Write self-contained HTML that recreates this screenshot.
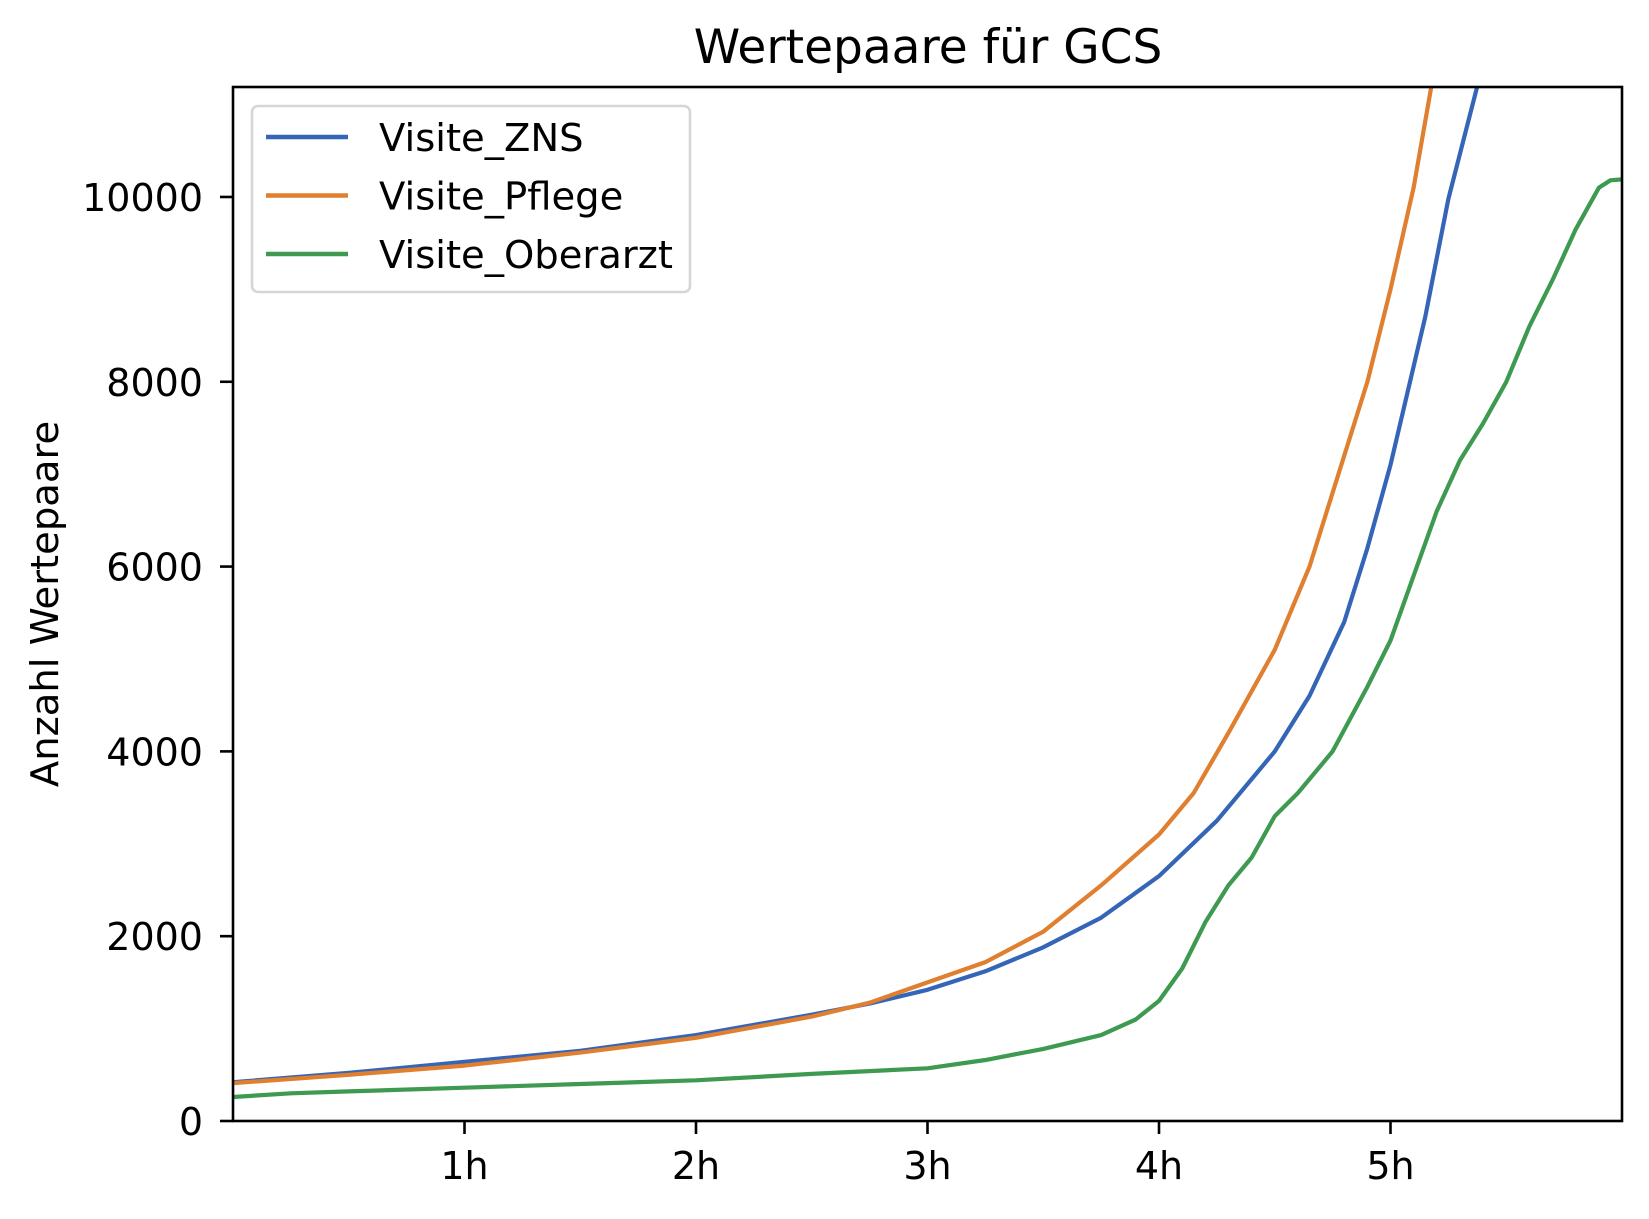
<!DOCTYPE html>
<html><head><meta charset="utf-8"><style>
body{margin:0;background:#fff}
svg text{font-family:"DejaVu Sans","Liberation Sans",sans-serif;fill:#000}
</style></head><body>
<svg id="c" width="1649" height="1214" xmlns="http://www.w3.org/2000/svg">
<rect width="1649" height="1214" fill="#fff"/>
<g id="plot"></g>
<text x="928" y="63" font-size="47" text-anchor="middle">Wertepaare für GCS</text>
<text transform="translate(58,604) rotate(-90)" font-size="38.5" text-anchor="middle">Anzahl Wertepaare</text>
</svg>
<script>
const xTicks=[1,2,3,4,5];
const xTickLabels=["1h","2h","3h","4h","5h"];
const yTicks=[0,2000,4000,6000,8000,10000];
const seriesNames=["Visite_ZNS","Visite_Pflege","Visite_Oberarzt"];
const seriesColors=["#3465b7","#e07f2f","#3d9a50"];
const znsX=[0,0.5,1,1.5,2,2.5,2.75,3,3.25,3.5,3.75,4,4.25,4.5,4.65,4.8,4.9,5,5.15,5.25,5.38];
const znsY=[420,520,640,760,930,1150,1270,1420,1620,1880,2200,2650,3250,4000,4600,5400,6200,7100,8700,9980,11250];
const pflegeX=[0,0.5,1,1.5,2,2.5,2.75,3,3.25,3.5,3.75,4,4.15,4.3,4.5,4.65,4.8,4.9,5,5.1,5.18];
const pflegeY=[410,500,600,740,900,1130,1280,1500,1720,2050,2550,3100,3550,4200,5100,6000,7200,8000,9000,10100,11250];
const oberX=[0,0.25,0.5,1,1.5,2,2.5,3,3.25,3.5,3.75,3.9,4,4.1,4.2,4.3,4.4,4.5,4.6,4.75,4.9,5,5.1,5.2,5.3,5.4,5.5,5.6,5.7,5.8,5.9,5.95,6];
const oberY=[260,300,320,360,400,440,510,570,660,780,930,1100,1300,1650,2150,2550,2850,3300,3550,4000,4700,5200,5900,6600,7150,7550,8000,8600,9100,9650,10100,10180,10190];
const L=233,R=1622,T=87,B=1121;
const xMax=6,yMax=11190;
const sx=v=>L+(R-L)*v/xMax, sy=v=>B-(B-T)*v/yMax;
const NS="http://www.w3.org/2000/svg";
const g=document.getElementById('plot');
function mk(t,a,p){const e=document.createElementNS(NS,t);for(const k in a)e.setAttribute(k,a[k]);(p||g).appendChild(e);return e;}
const cp=mk('clipPath',{id:'clip'});mk('rect',{x:L,y:T,width:R-L,height:B-T},cp);
const data=[[znsX,znsY],[pflegeX,pflegeY],[oberX,oberY]];
data.forEach((d,i)=>{
 const pts=d[0].map((x,j)=>sx(x).toFixed(1)+','+sy(d[1][j]).toFixed(1)).join(' ');
 const pl=mk('polyline',{points:pts,fill:'none',stroke:seriesColors[i],'stroke-width':4.2,'clip-path':'url(#clip)','stroke-linejoin':'round'});
 
 
});
const fr=mk('rect',{x:L,y:T,width:R-L,height:B-T,fill:'none',stroke:'#000','stroke-width':2.6});


xTicks.forEach((v,i)=>{
 mk('line',{x1:sx(v),x2:sx(v),y1:B,y2:B+13,stroke:'#000','stroke-width':2.6});
 const t=mk('text',{x:sx(v),y:1179,'font-size':38,'text-anchor':'middle'});t.textContent=xTickLabels[i];
 
 
});
yTicks.forEach(v=>{
 mk('line',{x1:L-13,x2:L,y1:sy(v),y2:sy(v),stroke:'#000','stroke-width':2.6});
 const t=mk('text',{x:203,y:sy(v)+14,'font-size':38,'text-anchor':'end'});t.textContent=v;
 
 
});
const lg=mk('g',{});


mk('rect',{x:252,y:106,width:438,height:186,rx:6,fill:'#fff','fill-opacity':0.8,stroke:'#d6d6d6','stroke-width':2.6},lg);
seriesNames.forEach((n,i)=>{
 const y=137+i*58.5;
 const e=mk('g',{},lg);
 
 
 mk('line',{x1:266,x2:348,y1:y,y2:y,stroke:seriesColors[i],'stroke-width':4.5},e);
 const t=mk('text',{x:379,y:y+14,'font-size':38.5},e);t.textContent=n;
});
</script>
</body></html>
